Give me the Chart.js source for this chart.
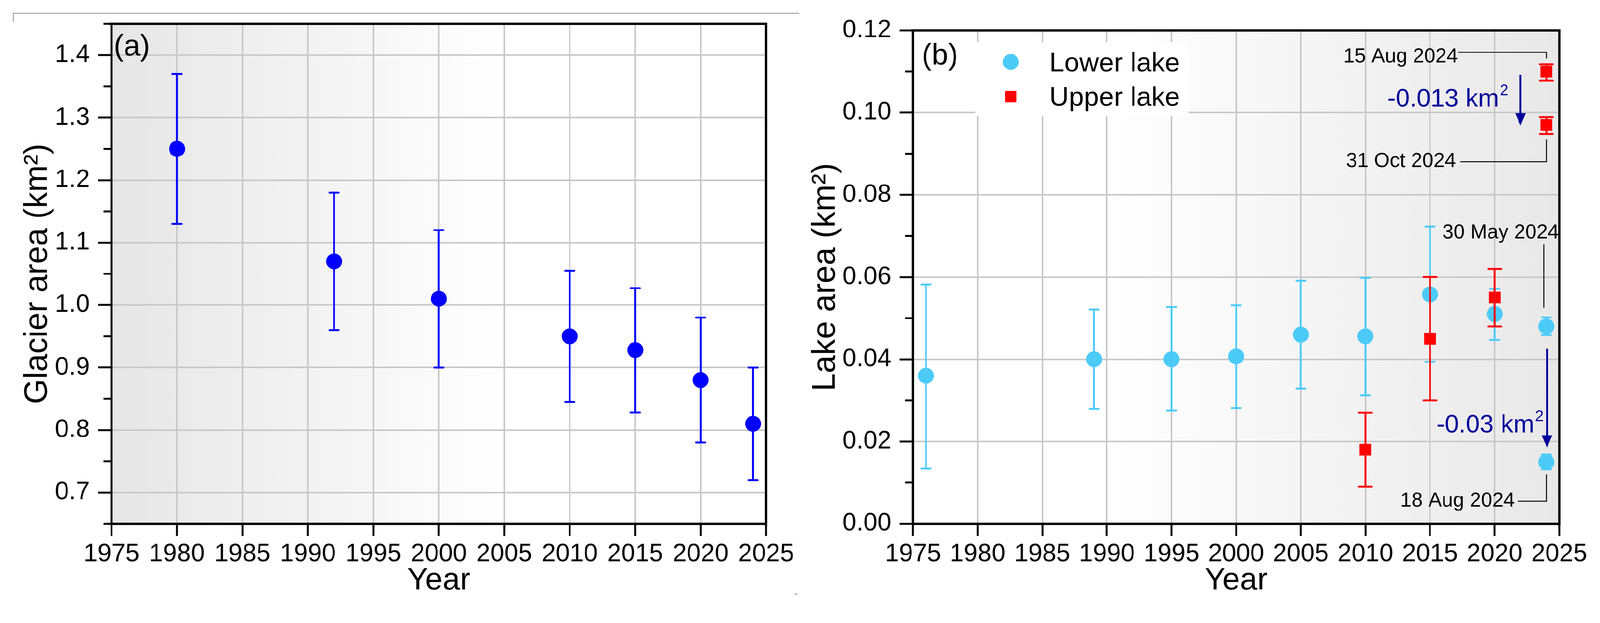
<!DOCTYPE html>
<html lang="en">
<head>
<meta charset="UTF-8">
<title>Glacier and lake area</title>
<script src="https://cdn.jsdelivr.net/npm/chart.js"></script>
<style>
  html, body { margin: 0; padding: 0; background: #fff; overflow: hidden; }
  #page { width: 4204px; height: 1596px; position: absolute; left: 0; top: 0; transform-origin: 0 0; }
  canvas { position: absolute; top: 0; }
  #glacier { left: 0; }
  #lake { left: 2100px; }
</style>
</head>
<body>
<div id="page">
  <canvas id="glacier" width="2100" height="1596"></canvas>
  <canvas id="lake" width="2104" height="1596"></canvas>
</div>
<script>

// ---- data ----
const yearTicks = [1975, 1980, 1985, 1990, 1995, 2000, 2005, 2010, 2015, 2020, 2025];

// (a) glacier area, km2
const glacierYears = [1980, 1992, 2000, 2010, 2015, 2020, 2024];
const glacierArea  = [1.25, 1.07, 1.01, 0.95, 0.928, 0.88, 0.81];
const glacierLow   = [1.13, 0.96, 0.90, 0.845, 0.828, 0.78, 0.72];
const glacierHigh  = [1.37, 1.18, 1.12, 1.055, 1.027, 0.98, 0.90];
const glacierTicks = [0.7, 0.8, 0.9, 1.0, 1.1, 1.2, 1.3, 1.4];
const glacierMinor = [0.65, 0.75, 0.85, 0.95, 1.05, 1.15, 1.25, 1.35, 1.45];

// (b) lake area, km2
const lowerYears = [1976, 1989, 1995, 2000, 2005, 2010, 2015, 2020, 2024, 2024];
const lowerArea  = [0.036, 0.040, 0.040, 0.0407, 0.046, 0.0456, 0.0558, 0.051, 0.048, 0.015];
const lowerLow   = [0.0134, 0.0279, 0.0275, 0.0281, 0.0329, 0.0312, 0.0394, 0.0447, 0.0459, 0.0132];
const lowerHigh  = [0.0582, 0.0521, 0.0527, 0.0531, 0.0591, 0.0598, 0.0723, 0.0571, 0.0502, 0.0168];

const upperYears = [2010, 2015, 2020, 2024, 2024];
const upperArea  = [0.018, 0.045, 0.055, 0.110, 0.097];
const upperLow   = [0.009, 0.030, 0.048, 0.1078, 0.0948];
const upperHigh  = [0.027, 0.060, 0.062, 0.1118, 0.0989];

const lakeTicks = [0, 0.02, 0.04, 0.06, 0.08, 0.10, 0.12];
const lakeMinor = [0.01, 0.03, 0.05, 0.07, 0.09, 0.11];

// annotations of panel (b), placed in data units
const lakeNotes = [
  { text: '15 Aug 2024', x: 2008.3, y: 0.11225, size: 53, color: '#000' },
  { text: '31 Oct 2024', x: 2008.5, y: 0.08677, size: 53, color: '#000' },
  { text: '30 May 2024', x: 2015.95, y: 0.06942, size: 53, color: '#000' },
  { text: '18 Aug 2024', x: 2012.7, y: 0.00415, size: 53, color: '#000' },
  { text: '-0.013 km', sup: '2', x: 2011.7, y: 0.10154, size: 66, color: '#00009c' },
  { text: '-0.03 km', sup: '2', x: 2015.5, y: 0.02225, size: 66, color: '#00009c' }
];
const lakeLeaders = [
  [[2017.15, 0.11465], [2024, 0.11465], [2024, 0.11317]],
  [[2024, 0.09351], [2024, 0.08806], [2017.35, 0.08806]],
  [[2023.8, 0.06803], [2023.8, 0.05252]],
  [[2024, 0.0120], [2024, 0.00545], [2021.79, 0.00545]]
];
const lakeArrows = [
  { x: 2022.0, from: 0.1092, to: 0.0969 },
  { x: 2024.05, from: 0.04255, to: 0.01855 }
];

// ---- fit the 4204x1596 page into whatever viewport we get ----
const fit = Math.min(window.innerWidth / 4204, window.innerHeight / 1596) || 1;
if (Math.abs(fit - 1) > 0.001) {
  document.getElementById('page').style.transform = 'scale(' + fit + ')';
}

// ---- styling ----
const FONT = '"Liberation Sans", Arial, sans-serif';
const GRID = '#c8c8c8';
const BLUE = '#0000ff';
const CYAN = '#4ccbf9';
const RED = '#ff0000';

function points(xs, ys) {
  return xs.map((x, i) => ({ x: x, y: ys[i] }));
}

function edgeHidden(c) {
  if (!c.tick) return GRID;
  return (c.tick.value === c.scale.min || c.tick.value === c.scale.max) ? 'rgba(0,0,0,0)' : GRID;
}

function yearAxis(bottom) {
  return {
    type: 'linear', min: 1975, max: 2025,
    afterBuildTicks: s => { s.ticks = yearTicks.map(v => ({ value: v })); },
    afterFit: s => { s.height = 1596 - bottom; },
    grid: { color: edgeHidden, lineWidth: 4, tickColor: '#000', tickWidth: 5, tickLength: 32 },
    border: { color: '#000', width: 6 },
    ticks: {
      autoSkip: false, maxRotation: 0, padding: 9, color: '#000',
      font: { family: FONT, size: 66 }, callback: v => String(v)
    },
    title: {
      display: true, text: 'Year', color: '#000',
      font: { family: FONT, size: 82 }, padding: { top: 0, bottom: 19 }
    }
  };
}

function valueAxis(opts) {
  return {
    type: 'linear', min: opts.min, max: opts.max,
    afterBuildTicks: s => { s.ticks = opts.ticks.map(v => ({ value: v })); },
    afterFit: s => { s.width = opts.width; },
    grid: { color: edgeHidden, lineWidth: 4, tickColor: '#000', tickWidth: 5, tickLength: 35 },
    border: { color: '#000', width: 6 },
    ticks: {
      autoSkip: false, padding: 22, color: '#000',
      font: { family: FONT, size: 66 }, callback: v => v.toFixed(opts.digits)
    },
    title: {
      display: true, text: opts.title, color: '#000',
      font: { family: FONT, size: 85 }, padding: { top: opts.titlePad, bottom: 0 }
    }
  };
}

// gradient behind the plot area
function backdrop(stops) {
  return {
    id: 'backdrop',
    beforeDraw(chart) {
      const { ctx, chartArea: a } = chart;
      const g = ctx.createLinearGradient(a.left, 0, a.right, 0);
      stops.forEach(s => g.addColorStop(s[0], s[1]));
      ctx.save();
      ctx.fillStyle = g;
      ctx.fillRect(a.left, a.top, a.right - a.left, a.bottom - a.top);
      ctx.restore();
    }
  };
}

const errorBars = {
  id: 'errorBars',
  afterDatasetsDraw(chart) {
    const { ctx, scales: { x, y } } = chart;
    ctx.save();
    ctx.lineWidth = 5;
    chart.data.datasets.forEach(ds => {
      ctx.strokeStyle = ds.backgroundColor;
      const hw = ds.capWidth / 2;
      ds.data.forEach((p, i) => {
        const px = x.getPixelForValue(p.x);
        const top = y.getPixelForValue(ds.errHigh[i]);
        const bot = y.getPixelForValue(ds.errLow[i]);
        ctx.lineCap = 'butt';
        ctx.beginPath();
        ctx.moveTo(px, top);
        ctx.lineTo(px, bot);
        ctx.stroke();
        ctx.lineCap = 'round';
        ctx.beginPath();
        ctx.moveTo(px - hw, top); ctx.lineTo(px + hw, top);
        ctx.moveTo(px - hw, bot); ctx.lineTo(px + hw, bot);
        ctx.stroke();
      });
    });
    ctx.restore();
  }
};

// top/right frame, minor ticks and the panel letter
function frame(minor, letter) {
  return {
    id: 'frame',
    afterDraw(chart) {
      const { ctx, chartArea: a, scales: { y } } = chart;
      ctx.save();
      ctx.strokeStyle = '#000';
      ctx.lineWidth = 6;
      ctx.beginPath();
      ctx.moveTo(a.left - 6, a.top);
      ctx.lineTo(a.right, a.top);
      ctx.lineTo(a.right, a.bottom + 6);
      ctx.stroke();
      ctx.lineWidth = 5;
      minor.forEach(v => {
        const py = y.getPixelForValue(v);
        ctx.beginPath();
        ctx.moveTo(a.left - 21, py);
        ctx.lineTo(a.left - 3, py);
        ctx.stroke();
      });
      ctx.fillStyle = '#000';
      ctx.font = '78px ' + FONT;
      ctx.textBaseline = 'alphabetic';
      ctx.fillText(letter.text, a.left + letter.dx, letter.y);
      ctx.restore();
    }
  };
}

// thin grey border left over round panel (a)
const panelEdge = {
  id: 'panelEdge',
  afterDraw(chart) {
    const ctx = chart.ctx;
    ctx.save();
    ctx.strokeStyle = '#8f8f8f';
    ctx.lineWidth = 2;
    ctx.beginPath();
    ctx.moveTo(35, 57); ctx.lineTo(35, 35); ctx.lineTo(2100, 35);
    ctx.moveTo(2088, 1562); ctx.lineTo(2096, 1562);
    ctx.stroke();
    ctx.restore();
  }
};

const lakeLegend = {
  id: 'lakeLegend',
  beforeDatasetsDraw(chart) {
    const ctx = chart.ctx;
    ctx.save();
    ctx.fillStyle = '#fff';
    ctx.fillRect(463, 111, 560, 194);
    ctx.restore();
  },
  afterDraw(chart) {
    const ctx = chart.ctx;
    const [lower, upper] = chart.data.datasets;
    ctx.save();
    ctx.fillStyle = lower.backgroundColor;
    ctx.beginPath();
    ctx.arc(556, 163, 21, 0, Math.PI * 2);
    ctx.fill();
    ctx.fillStyle = upper.backgroundColor;
    ctx.fillRect(556 - 15, 254 - 15, 30, 30);
    ctx.fillStyle = '#000';
    ctx.font = '71px ' + FONT;
    ctx.textBaseline = 'alphabetic';
    ctx.fillText(lower.label, 657, 188);
    ctx.fillText(upper.label, 657, 278);
    ctx.restore();
  }
};

const lakeMarks = {
  id: 'lakeMarks',
  afterDraw(chart) {
    const { ctx, scales: { x, y } } = chart;
    ctx.save();
    ctx.strokeStyle = '#000';
    ctx.lineWidth = 2.5;
    lakeLeaders.forEach(path => {
      ctx.beginPath();
      path.forEach((p, i) => {
        const px = x.getPixelForValue(p[0]);
        const py = y.getPixelForValue(p[1]);
        if (i === 0) ctx.moveTo(px, py); else ctx.lineTo(px, py);
      });
      ctx.stroke();
    });
    ctx.textBaseline = 'alphabetic';
    ctx.textAlign = 'left';
    lakeNotes.forEach(n => {
      const px = x.getPixelForValue(n.x);
      const py = y.getPixelForValue(n.y);
      ctx.fillStyle = n.color;
      ctx.font = n.size + 'px ' + FONT;
      ctx.fillText(n.text, px, py);
      if (n.sup) {
        const w = ctx.measureText(n.text).width;
        ctx.font = Math.round(n.size * 0.62) + 'px ' + FONT;
        ctx.fillText(n.sup, px + w + 2, py - n.size * 0.45);
      }
    });
    ctx.strokeStyle = '#00009c';
    ctx.fillStyle = '#00009c';
    ctx.lineWidth = 5;
    lakeArrows.forEach(ar => {
      const px = x.getPixelForValue(ar.x);
      const y0 = y.getPixelForValue(ar.from);
      const y1 = y.getPixelForValue(ar.to);
      ctx.beginPath();
      ctx.moveTo(px, y0);
      ctx.lineTo(px, y1 - 28);
      ctx.stroke();
      ctx.beginPath();
      ctx.moveTo(px, y1);
      ctx.lineTo(px - 14, y1 - 32);
      ctx.lineTo(px + 14, y1 - 32);
      ctx.closePath();
      ctx.fill();
    });
    ctx.restore();
  }
};

const common = {
  responsive: false,
  animation: false,
  devicePixelRatio: 1,
  events: [],
  plugins: { legend: { display: false }, tooltip: { enabled: false } }
};

new Chart(document.getElementById('glacier'), {
  type: 'scatter',
  data: {
    datasets: [{
      label: 'Glacier area',
      data: points(glacierYears, glacierArea),
      errLow: glacierLow, errHigh: glacierHigh, capWidth: 24,
      backgroundColor: BLUE, borderWidth: 0,
      pointStyle: 'circle', pointRadius: 21, pointHoverRadius: 21,
      clip: false
    }]
  },
  options: Object.assign({}, common, {
    layout: { padding: { top: 63, right: 87, bottom: 0, left: 0 } },
    scales: {
      x: yearAxis(1377),
      y: valueAxis({ min: 0.65, max: 1.45, ticks: glacierTicks, digits: 1, width: 293,
                     title: 'Glacier area (km\u00B2)', titlePad: 49 })
    }
  }),
  plugins: [
    backdrop([[0, '#e6e6e6'], [0.6, '#ffffff'], [1, '#ffffff']]),
    errorBars,
    frame(glacierMinor, { text: '(a)', dx: 6, y: 146 }),
    panelEdge
  ]
});

new Chart(document.getElementById('lake'), {
  type: 'scatter',
  data: {
    datasets: [{
      label: 'Lower lake',
      data: points(lowerYears, lowerArea),
      errLow: lowerLow, errHigh: lowerHigh, capWidth: 24,
      backgroundColor: CYAN, borderWidth: 0,
      pointStyle: 'circle', pointRadius: 21, pointHoverRadius: 21,
      clip: false
    }, {
      label: 'Upper lake',
      data: points(upperYears, upperArea),
      errLow: upperLow, errHigh: upperHigh, capWidth: 34,
      backgroundColor: RED, borderWidth: 0,
      pointStyle: 'rect', pointRadius: 22, pointHoverRadius: 22,
      clip: false
    }]
  },
  options: Object.assign({}, common, {
    layout: { padding: { top: 80, right: 107, bottom: 0, left: 0 } },
    scales: {
      x: yearAxis(1377),
      y: valueAxis({ min: 0, max: 0.12, ticks: lakeTicks, digits: 2, width: 299,
                     title: 'Lake area (km\u00B2)', titlePad: 19 })
    }
  }),
  plugins: [
    backdrop([[0, '#ffffff'], [0.3, '#ffffff'], [1, '#e8e8e8']]),
    lakeLegend,
    errorBars,
    frame(lakeMinor, { text: '(b)', dx: 23, y: 170 }),
    lakeMarks
  ]
});

</script>
</body>
</html>
